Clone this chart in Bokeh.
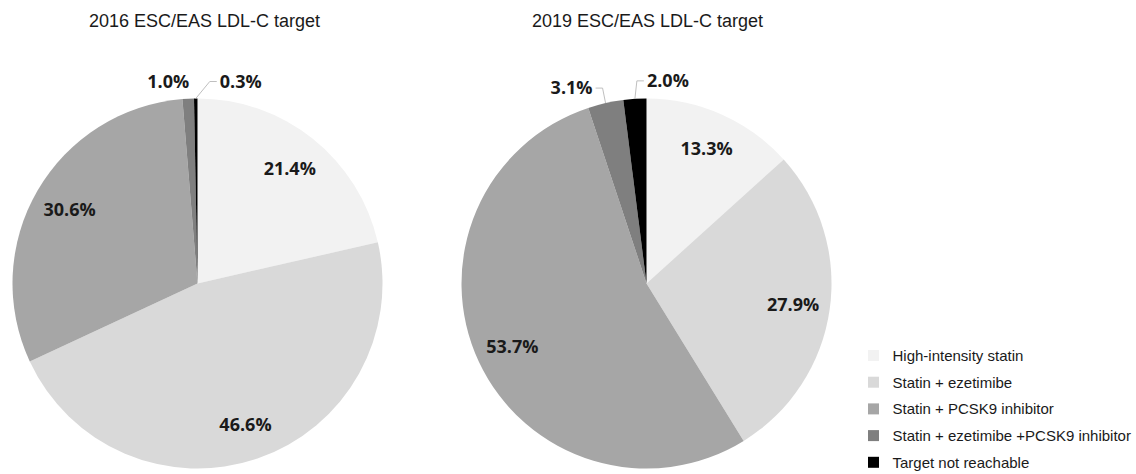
import math
from bokeh.plotting import figure
from bokeh.models import Range1d, ColumnDataSource
from bokeh.core.properties import value
from bokeh.embed import file_html
from bokeh.resources import INLINE

# ---- data ----
categories = ["High-intensity statin", "Statin + ezetimibe", "Statin + PCSK9 inhibitor",
              "Statin + ezetimibe +PCSK9 inhibitor", "Target not reachable"]
values_2016 = [21.4, 46.6, 30.6, 1.0, 0.3]
values_2019 = [13.3, 27.9, 53.7, 3.1, 2.0]
titles = ["2016 ESC/EAS LDL-C target", "2019 ESC/EAS LDL-C target"]
colors = ["#f2f2f2", "#d9d9d9", "#a6a6a6", "#7f7f7f", "#000000"]

# ---- layout (screen px) ----
W, H = 1136, 474
def sx(x): return x
def sy(y): return H - y

R = 185
centers = [(197, 283), (646, 283)]
title_dx = [7, 1]
# outside-label placement: (dx, dy_up) offsets from slice edge point, and leader flag
outside_2016 = {3: (-20, 18, False), 4: (45, 18, True)}
outside_2019 = {3: (-34, 16, True), 4: (33, 19, True)}

p = figure(width=W, height=H, x_range=Range1d(0, W), y_range=Range1d(0, H),
           output_backend="svg", toolbar_location=None,
           x_axis_location=None, y_axis_location=None,
           min_border=0, outline_line_color=None)
p.grid.visible = False
p.background_fill_color = "white"
p.border_fill_color = "white"

label_font = value("Open Sans")
for (cx, cy), vals, outside, title, tdx in zip(
        centers, [values_2016, values_2019], [outside_2016, outside_2019], titles, title_dx):
    total = sum(vals)
    starts, ends, mids = [], [], []
    cum = 0.0
    for v in vals:
        a0 = math.pi / 2 - 2 * math.pi * cum / total
        cum += v
        a1 = math.pi / 2 - 2 * math.pi * cum / total
        starts.append(a0); ends.append(a1); mids.append((a0 + a1) / 2)
    src = ColumnDataSource(dict(x=[sx(cx)] * len(vals), y=[sy(cy)] * len(vals),
                                start=starts, end=ends, color=colors))
    p.wedge(x="x", y="y", radius=R, start_angle="start", end_angle="end",
            direction="clock", fill_color="color", line_color=None, source=src)

    lx, ly, lt = [], [], []
    for i, (v, m) in enumerate(zip(vals, mids)):
        txt = f"{v:.1f}%"
        if i in outside:
            dx, dy, leader = outside[i]
            ex = sx(cx) + R * math.cos(m)
            ey = sy(cy) + R * math.sin(m)
            tx, ty = ex + dx, ey + dy
            if leader:
                half = 21
                side = -1 if dx > 0 else 1
                endx = tx + side * (half + 3)
                elbx = endx + side * 7
                p.line([ex, elbx, endx], [ey, ty - 1, ty - 1], line_color="#bfbfbf", line_width=1)
        else:
            tx = sx(cx) + 0.8 * R * math.cos(m)
            ty = sy(cy) + 0.8 * R * math.sin(m)
        lx.append(tx); ly.append(ty); lt.append(txt)
    p.text(x=lx, y=ly, text=lt, text_font=label_font, text_font_style="bold",
           text_font_size="18px", text_color="#1a1a1a",
           text_align="center", text_baseline="middle")

    p.text(x=[sx(cx + tdx)], y=[sy(20)], text=[title], text_font=value("Liberation Sans"),
           text_font_size="18px", text_color="#1a1a1a",
           text_align="center", text_baseline="middle")

# ---- legend ----
leg_x_sq = 873
leg_x_txt = 892
leg_y0 = 355
leg_dy = 26.7
ys = [sy(leg_y0 + i * leg_dy) for i in range(len(categories))]
p.scatter(x=[sx(leg_x_sq)] * len(categories), y=ys, marker="square", size=11,
          fill_color=colors, line_color=None)
p.text(x=[sx(leg_x_txt)] * len(categories), y=ys, text=categories,
       text_font=value("Liberation Sans"), text_font_size="15px", text_color="#1a1a1a",
       text_align="left", text_baseline="middle")

open("out.html", "w").write(file_html(p, INLINE))
